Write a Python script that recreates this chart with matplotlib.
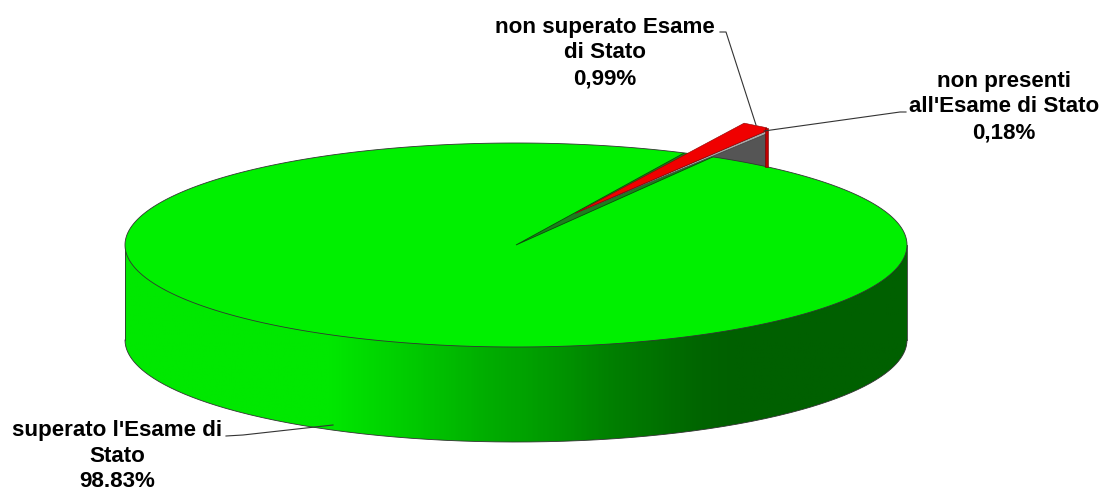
import numpy as np
import matplotlib.pyplot as plt
from matplotlib.colors import LinearSegmentedColormap
from matplotlib.patches import Polygon

plt.rcParams["font.family"] = ["Liberation Sans", "DejaVu Sans"]

# data
categories = ["superato l'Esame di\nStato", "non superato Esame\ndi Stato", "non presenti\nall'Esame di Stato"]
values = [98.83, 0.99, 0.18]
value_labels = ["98.83%", "0,99%", "0,18%"]

# pie geometry in pixels
cx, cy = 516, 245
rx, ry = 391, 102
depth = 95
lift = 39  # the small slices stand up out of the pie
end_angle = 39.9  # clockwise from the top
red_from = 0.26  # red only shows from this far along the radius

# wall shading, left to right
wall_stops = [(0.0, "#00e800"), (0.26, "#00e800"), (0.36, "#00cc00"), (0.46, "#00ae00"),
              (0.52, "#00a000"), (0.62, "#008000"), (0.74, "#006400"), (0.78, "#006000"),
              (1.0, "#006000")]


def rim(theta, z=0):
    t = np.radians(theta)
    return cx + rx * np.sin(t), cy - ry * np.cos(t) - z


def along(point, frac):
    return cx + (point[0] - cx) * frac, cy + (point[1] - cy) * frac


fig = plt.figure(figsize=(11.04, 4.88), dpi=100)
ax = fig.add_axes([0, 0, 1, 1])
ax.set_xlim(0, 1104)
ax.set_ylim(488, 0)
ax.axis("off")

# side wall with gradient
theta_all = np.linspace(0, 360, 721)
theta_front = np.linspace(90, 270, 361)
x_front, y_front = rim(theta_front)
wall_xy = np.r_[np.c_[x_front, y_front + depth], [[cx - rx, cy], [cx + rx, cy]]]
wall = Polygon(wall_xy, closed=True, fc="none", ec="none")
ax.add_patch(wall)
cmap = LinearSegmentedColormap.from_list("wall", wall_stops)
im = ax.imshow(np.linspace(0, 1, 400)[None, :], cmap=cmap, aspect="auto", vmin=0, vmax=1,
               extent=[cx - rx, cx + rx, cy + ry + depth, cy], zorder=1)
im.set_clip_path(wall)
ax.plot(*np.c_[x_front, y_front + depth].T, color="#333333", lw=0.6, zorder=2)
ax.plot([cx - rx, cx - rx], [cy, cy + depth], color="#333333", lw=0.6, zorder=2)
ax.plot([cx + rx, cx + rx], [cy, cy + depth], color="#333333", lw=0.6, zorder=2)

# angles of the small slices come from their values
red_width = values[1] * 3.6
gray_width = values[2] * 3.6
red_end = end_angle - gray_width
red_start = red_end - red_width

# gray inner face behind the green top
gray = Polygon([(cx, cy), rim(end_angle, lift - 4), rim(end_angle, 0)],
               fc="#555555", ec="#404040", lw=0.5, zorder=3)
ax.add_patch(gray)

# green top
x_top, y_top = rim(theta_all)
top = Polygon(np.c_[x_top, y_top], fc="#00f000", ec="#333333", lw=0.6, zorder=4)
ax.add_patch(top)

# dark green cut edge stays inside the green top
cut = Polygon([(cx, cy), rim(red_start - 1.7, lift - 4), rim(end_angle, lift - 5)],
              fc="#1e7d1e", ec="#0b4a0b", lw=0.6, zorder=5)
ax.add_patch(cut)
cut.set_clip_path(top)

# thin gray strip under the red slice, then the red slice
tip = along(rim(red_start, lift), red_from)
ax.add_patch(Polygon([tip, rim(end_angle, lift - 3), rim(end_angle, lift - 6)],
                     fc="#a8a8a8", ec="#404040", lw=0.5, zorder=5))
ax.add_patch(Polygon([tip, rim(red_start, lift), rim(end_angle, lift), rim(end_angle, lift - 3)],
                     fc="#f00000", ec="#8a0000", lw=0.4, zorder=6))
xe, ye = rim(end_angle)
ax.add_patch(Polygon([(xe - 1.5, ye - lift), (xe + 1.5, ye - lift), (xe + 1.5, ye), (xe - 1.5, ye)],
                     fc="#c00000", ec="#700000", lw=0.4, zorder=6))

# leader lines
ax.plot([226, 243, 333], [436, 435, 425], color="#333333", lw=0.8, zorder=7)
ax.plot([720, 726, 756], [32, 32, 125], color="#333333", lw=0.8, zorder=7)
ax.plot([764, 900, 906], [131, 112, 112], color="#333333", lw=0.8, zorder=7)

# labels
text_style = dict(ha="center", va="center", fontsize=16.1, fontweight="bold",
                  color="black", linespacing=1.29, zorder=8)
ax.text(117, 456, categories[0] + "\n" + value_labels[0], **text_style)
ax.text(605, 53, categories[1] + "\n" + value_labels[1], **text_style)
ax.text(1004, 107, categories[2] + "\n" + value_labels[2], **text_style)

fig.savefig("out.png", dpi=100)
plt.close(fig)
